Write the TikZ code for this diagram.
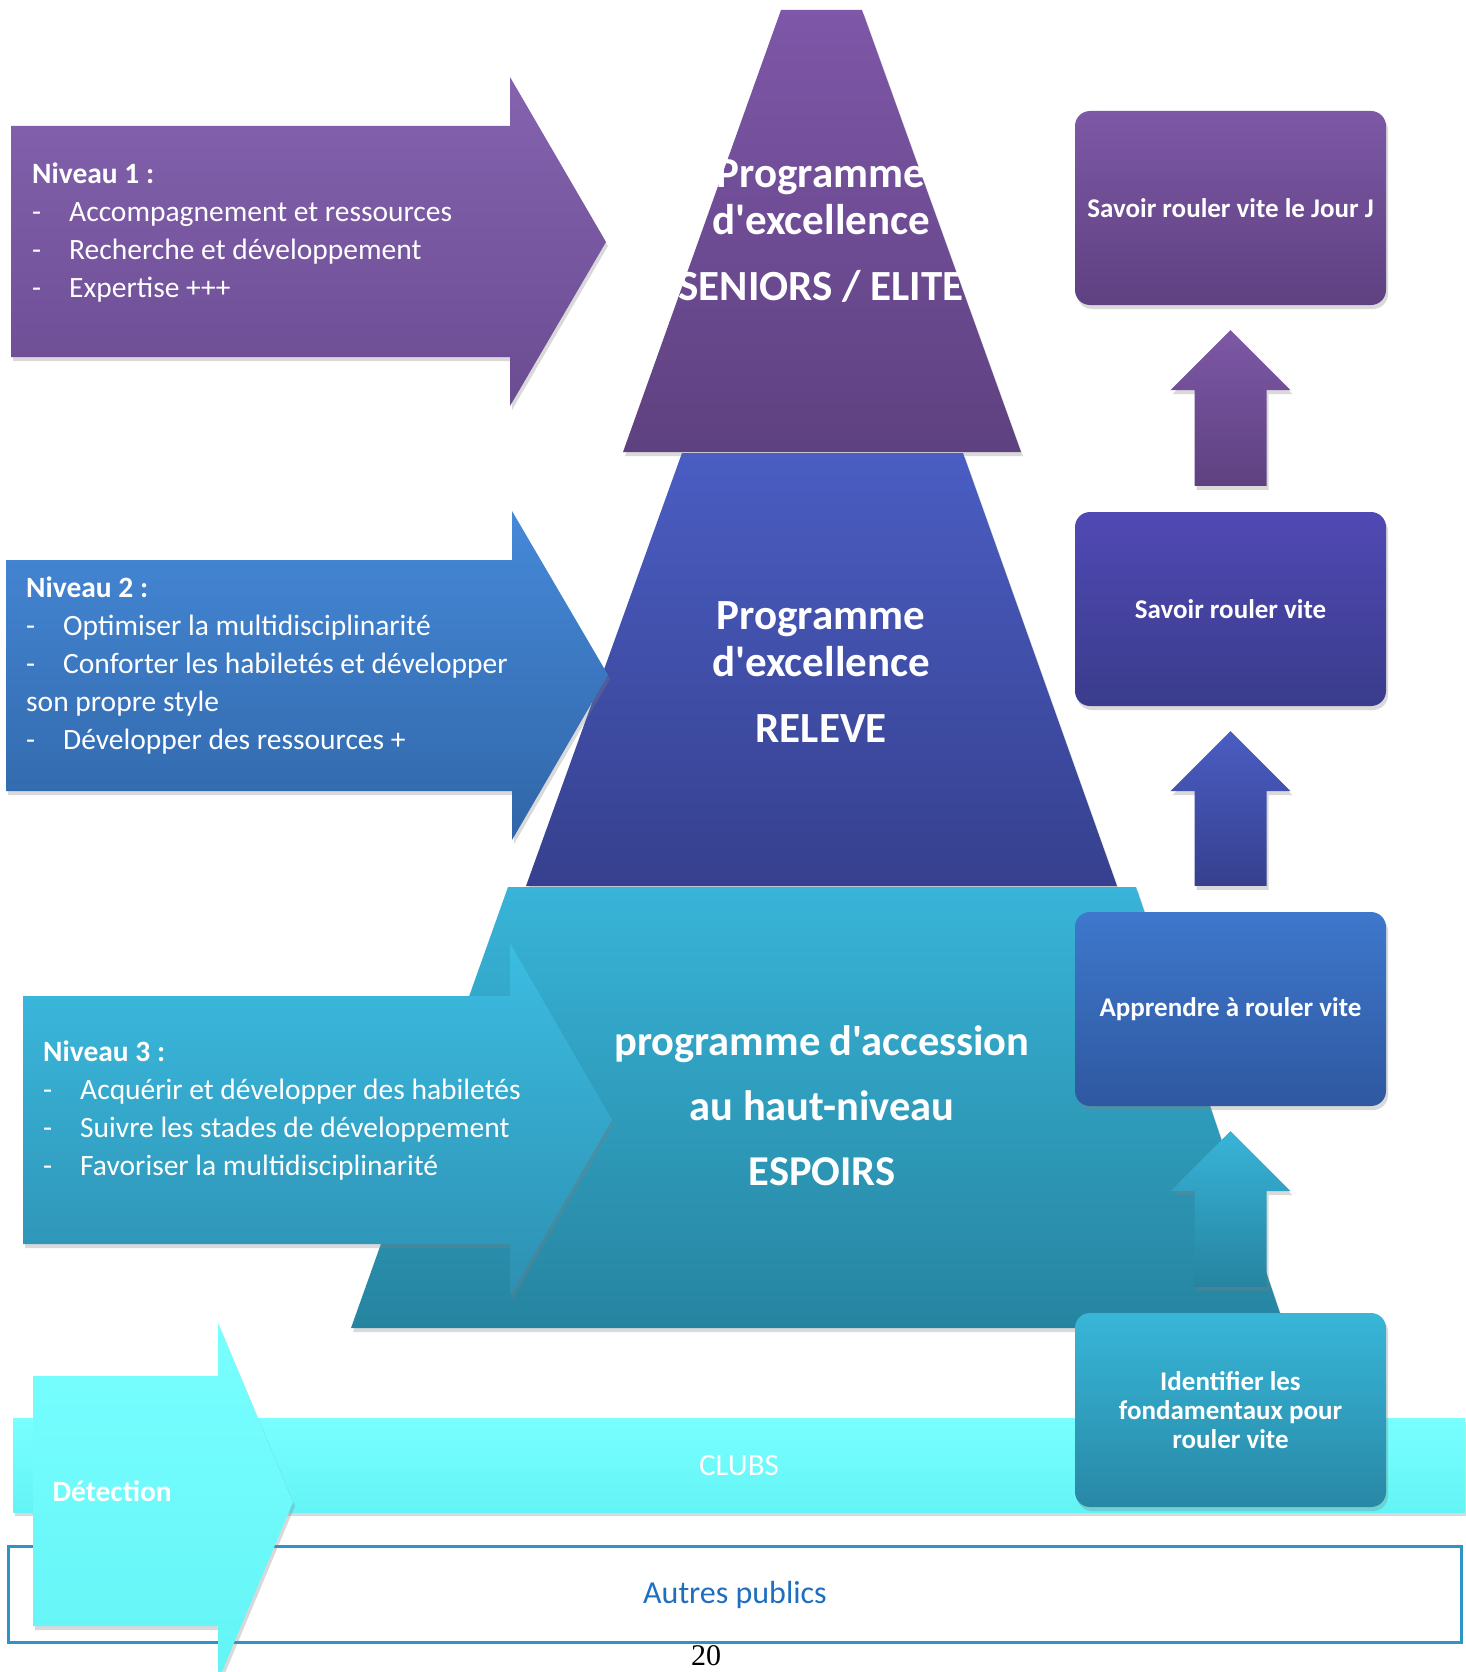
\documentclass[tikz,border=0pt]{standalone}
\usepackage{fontspec}
\setmainfont{Carlito}[Ligatures=TeXOff]
\newfontfamily\pagefont{Liberation Serif}
\usepackage{tikz}
\usetikzlibrary{calc,shadows}

\definecolor{pyrPtop}{HTML}{7E57A8}
\definecolor{pyrPbot}{HTML}{5E4180}
\definecolor{pyrBtop}{HTML}{4A5DC2}
\definecolor{pyrBbot}{HTML}{36408E}
\definecolor{pyrTtop}{HTML}{38B4D8}
\definecolor{pyrTbot}{HTML}{2684A0}
\definecolor{arrPtop}{HTML}{8563AF}
\definecolor{arrPbot}{HTML}{6B4C92}
\definecolor{arrBtop}{HTML}{4689D8}
\definecolor{arrBbot}{HTML}{3066A8}
\definecolor{arrTtop}{HTML}{3CBDE2}
\definecolor{arrTbot}{HTML}{2D90B2}
\definecolor{boxPtop}{HTML}{7D58A6}
\definecolor{boxPbot}{HTML}{5F4181}
\definecolor{boxVtop}{HTML}{5049B4}
\definecolor{boxVbot}{HTML}{3A3C8C}
\definecolor{boxLtop}{HTML}{3E78CC}
\definecolor{boxLbot}{HTML}{2F58A0}
\definecolor{boxTtop}{HTML}{38B6D8}
\definecolor{boxTbot}{HTML}{2888A6}
\definecolor{clubtop}{HTML}{78FFFF}
\definecolor{clubbot}{HTML}{64F4F6}
\definecolor{autresblue}{HTML}{2E93C6}
\definecolor{autrestext}{HTML}{1F6FC0}

\begin{document}
\begin{tikzpicture}[x=1pt, y=-1pt,
  shadowed/.style={drop shadow={opacity=0.3, shadow xshift=2pt, shadow yshift=-4pt}},
  tiertext/.style={text=white, font=\bfseries\fontsize{43}{47}\selectfont, align=center},
  leveltext/.style={text=white, font=\fontsize{29.5}{38}\selectfont, align=left, anchor=north west, inner sep=0pt},
  stepbox/.style={shadowed, rounded corners=15pt, minimum width=311pt, minimum height=194pt, text=white,
    font=\bfseries\fontsize{27}{29}\selectfont, align=center}]
\useasboundingbox (0,0) rectangle (1465,1672);

% pyramid
\path[shadowed, top color=pyrPtop, bottom color=pyrPbot] (781,10) -- (862,10) -- (1021,452) -- (623,452) -- cycle;
\path[shadowed, top color=pyrBtop, bottom color=pyrBbot] (682,453) -- (963,453) -- (1117,886) -- (526,886) -- cycle;
\path[shadowed, top color=pyrTtop, bottom color=pyrTbot] (508,887) -- (1136,887) -- (1285,1328) -- (351,1328) -- cycle;
\node[tiertext] (seniors) at (821,231) {Programme\\d'excellence\\[19pt]SENIORS / ELITE};
\node[tiertext] (releve) at (821,672) {Programme\\d'excellence\\[19pt]RELEVE};
\node[tiertext, font=\bfseries\fontsize{42.5}{65}\selectfont] (espoirs) at (822,1106) {programme d'accession\\au haut-niveau\\ESPOIRS};

% clubs and autres publics
\path[shadowed, top color=clubtop, bottom color=clubbot] (13,1418) rectangle (1465,1512);
\node[text=white, font=\fontsize{31}{32}\selectfont] (clubs) at (739,1466) {CLUBS};
\draw[autresblue, line width=3pt, fill=white] (8,1546) rectangle (1461,1642);
\node[text=autrestext, font=\fontsize{32}{32}\selectfont] (autres) at (735,1595) {Autres publics};

% levels
\path[shadowed, top color=arrPtop, bottom color=arrPbot] (11,126) -- (510,126) -- (510,77) -- (606,242) -- (510,406) -- (510,357) -- (11,357) -- cycle;
\path[shadowed, top color=arrBtop, bottom color=arrBbot] (6,560) -- (512,560) -- (512,511) -- (608,675) -- (512,840) -- (512,791) -- (6,791) -- cycle;
\path[shadowed, top color=arrTtop, bottom color=arrTbot] (23,996) -- (510,996) -- (510,943) -- (612,1120) -- (510,1296) -- (510,1244) -- (23,1244) -- cycle;
\node[leveltext] (niveau1) at (32,163) {\textbf{Niveau 1 :}\\
  \makebox[37pt][l]{-}Accompagnement et ressources\\
  \makebox[37pt][l]{-}Recherche et développement\\
  \makebox[37pt][l]{-}Expertise +++};
\node[leveltext] (niveau2) at (26,577) {\textbf{Niveau 2 :}\\
  \makebox[37pt][l]{-}Optimiser la multidisciplinarité\\
  \makebox[37pt][l]{-}Conforter les habiletés et développer\\
  son propre style\\
  \makebox[37pt][l]{-}Développer des ressources +};
\node[leveltext] (niveau3) at (43,1041) {\textbf{Niveau 3 :}\\
  \makebox[37pt][l]{-}Acquérir et développer des habiletés\\
  \makebox[37pt][l]{-}Suivre les stades de développement\\
  \makebox[37pt][l]{-}Favoriser la multidisciplinarité};

% detection
\path[shadowed, top color=clubtop, bottom color=clubbot] (33,1376) -- (218,1376) -- (218,1323) -- (293,1502) -- (218,1681) -- (218,1626) -- (33,1626) -- cycle;
\node[anchor=west, text=white, font=\bfseries\fontsize{29.5}{32}\selectfont] (detection) at (49,1491) {Détection};

% steps
\node[stepbox, top color=boxPtop, bottom color=boxPbot] (jourj) at (1230.5,208) {Savoir rouler vite le Jour J};
\node[stepbox, top color=boxVtop, bottom color=boxVbot] (vite) at (1230.5,609) {Savoir rouler vite};
\node[stepbox, top color=boxLtop, bottom color=boxLbot] (apprendre) at (1230.5,1009) {Apprendre à rouler vite};
\node[stepbox, top color=boxTtop, bottom color=boxTbot] (identifier) at (1230.5,1410) {Identifier les\\fondamentaux pour\\rouler vite};

\foreach \lo/\hi/\ct/\cb in {vite/jourj/boxPtop/boxPbot, apprendre/vite/pyrBtop/pyrBbot, identifier/apprendre/pyrTtop/pyrTbot}
  \path[shadowed, top color=\ct, bottom color=\cb] ($(\hi.south)+(0,25)$) -- ++(60,60) -- ++(-24,0)
    -- ($(\lo.north)+(36,-26)$) -- ($(\lo.north)+(-36,-26)$) -- ($(\hi.south)+(-36,85)$) -- ++(-24,0) -- cycle;

\node[anchor=base, inner sep=0pt, font=\pagefont\fontsize{30}{32}\selectfont] (pagenum) at (706,1665) {20};
\end{tikzpicture}
\end{document}
